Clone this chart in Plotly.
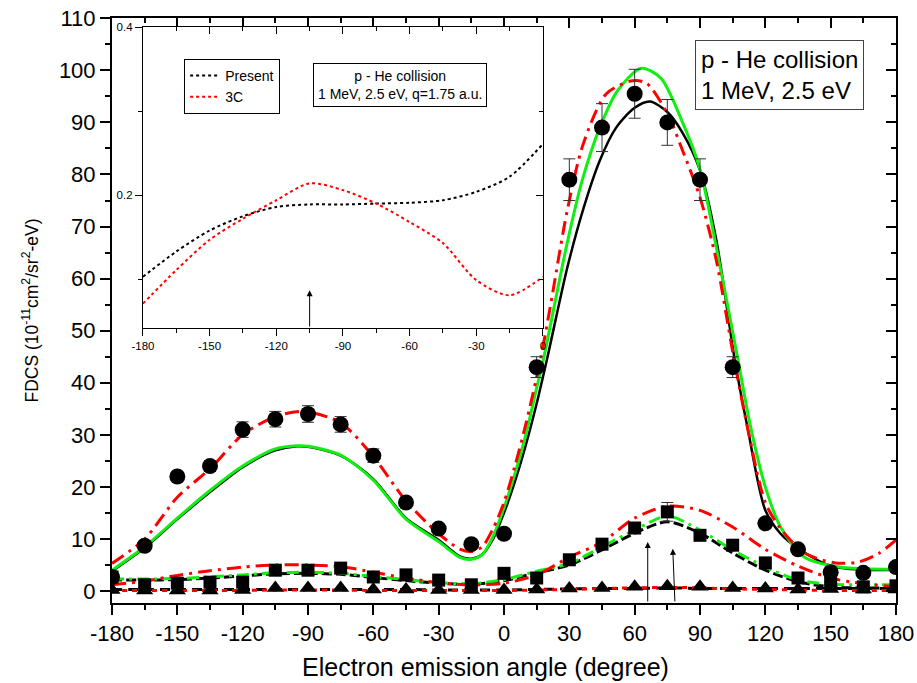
import plotly.graph_objects as go

# experimental points, every 15 degrees
angles = [-180, -165, -150, -135, -120, -105, -90, -75, -60, -45, -30, -15, 0,
          15, 30, 45, 60, 75, 90, 105, 120, 135, 150, 165, 180]
exp_high = [2.7, 8.7, 22, 24, 31, 33, 34, 32, 26, 17, 12, 9, 11,
            43, 79, 89, 95.5, 90, 79, 43, 13, 8, 3.6, 3.5, 4.6]
exp_high_err = [0.3, 0.5, 0.8, 1.0, 1.5, 1.5, 1.6, 1.5, 1.3, 0.8, 0.6, 0.5, 0.5,
                2.0, 4.0, 4.6, 4.7, 4.4, 4.0, 2.0, 0.7, 0.4, 0.3, 0.3, 0.3]
exp_mid = [2.7, 1.2, 1.5, 1.7, 1.7, 4.0, 4.0, 4.4, 2.7, 3.1, 2.1, 1.2, 3.4,
           2.5, 6.0, 9.0, 12.1, 15.2, 10.7, 8.8, 5.4, 2.5, 1.6, 0.8, 1.0]
exp_mid_err = [0.3, 0.5, 0.5, 0.5, 0.5, 0.6, 0.6, 0.6, 0.5, 0.5, 0.5, 0.4, 0.5,
               0.5, 0.6, 0.8, 1.0, 1.8, 0.9, 0.7, 0.5, 0.4, 0.3, 0.3, 0.3]
exp_low = [0.2, 0.1, 0.1, 0.1, 0.2, 0.6, 0.6, 0.6, 0.3, 0.3, 0.2, 0.2, 0.2,
           0.3, 0.5, 0.6, 0.8, 0.9, 0.8, 0.6, 0.5, 0.3, 0.4, 0.3, 0.3]

# theory, upper curves
present_x = [-180, -165, -150, -135, -120, -105, -95, -90, -75, -60, -45, -30, -20, -15,
             -10, -5, 0, 5, 10, 15, 20, 29, 36.5, 44, 51.5, 60, 67, 75, 82, 90, 97.5,
             106, 112, 120, 127, 135, 150, 165, 180]
present_y = [3.8, 8.3, 13.8, 19, 23.8, 27, 27.8, 27.7, 26, 21.5, 14, 9.8, 6.6, 6.2,
             7, 10, 15, 21, 28, 36, 45, 62, 73.5, 82.7, 89, 92.8, 94, 92, 88, 80.8, 67.4,
             44.3, 31, 15.5, 11, 8.2, 4.8, 4.1, 4.1]
green_x = [-180, -165, -150, -135, -120, -105, -95, -90, -75, -60, -45, -30, -20, -15,
           -10, -5, 0, 5, 10, 15, 18, 29, 36, 44, 52, 63, 72, 82, 90, 97.5, 107.5,
           113, 120, 127, 138, 154, 165, 180]
green_y = [4.0, 8.5, 14.0, 19.3, 24.0, 27.3, 27.9, 27.8, 26.1, 21.3, 13.8, 9.5, 6.4, 6.1,
           7.0, 10.5, 16, 22.5, 30, 39, 44.3, 66.8, 79, 89, 96, 100.4, 98.5, 90, 81, 66, 44.3,
           32, 20, 12.3, 6.5, 4.6, 4.3, 4.2]
red_x = [-180, -165, -150, -135, -120, -105, -92, -75, -60, -45, -30, -20, -15, -10, -5,
         0, 5, 10, 16.5, 21, 29, 36.5, 47, 59, 65.5, 75, 82, 90, 97.5, 105, 112, 120,
         127, 138, 152, 163, 172, 180]
red_y = [5.3, 10, 18, 23.5, 30, 33.5, 34.5, 32.3, 25.8, 17.3, 11, 8, 7.6, 8.5, 12,
         17, 24, 32, 44, 54, 73, 86, 95.5, 98, 97.5, 91.7, 84.6, 75.6, 63.5, 46, 31, 17,
         12, 7.3, 5.4, 5.6, 7.2, 9.8]

# middle curves
red_mid = [1.2, 1.9, 3.0, 3.9, 4.6, 5.0, 5.0, 4.7, 3.6, 2.5, 1.6, 1.2, 1.5,
           3.1, 6.5, 9.4, 14, 16.3, 15.5, 12.3, 8, 4.8, 2.5, 1.4, 0.8]
green_mid = [2.3, 2.3, 2.4, 2.7, 3.1, 3.5, 3.6, 3.4, 2.8, 2.2, 1.6, 1.4, 2.2,
             3.8, 5.3, 8.5, 11.7, 14.4, 11.7, 7.9, 4.6, 2.1, 1.3, 1.2, 1.2]
black_mid = [2.1, 2.1, 2.2, 2.5, 2.9, 3.3, 3.4, 3.2, 2.6, 2.0, 1.5, 1.3, 2.0,
             3.5, 5.0, 7.9, 11.1, 13.3, 11.1, 7.3, 4.0, 1.8, 0.8, 0.6, 0.6]

# lower curves
red_low = [0.1, 0.1, 0.1, 0.1, 0.1, 0.2, 0.2, 0.2, 0.1, 0.1, 0.1, 0.1, 0.1,
           0.2, 0.3, 0.5, 0.6, 0.7, 0.6, 0.4, 0.3, 0.2, 0.1, 0.1, 0.1]
black_low = [0.3, 0.3, 0.3, 0.3, 0.3, 0.3, 0.3, 0.3, 0.3, 0.3, 0.2, 0.2, 0.2,
             0.3, 0.4, 0.5, 0.5, 0.6, 0.5, 0.5, 0.5, 0.5, 0.5, 0.5, 0.5]

# inset
inset_x = [-180, -165, -150, -135, -120, -105, -90, -75, -60, -45, -30, -15, 0]
inset_present = [0.103, 0.133, 0.158, 0.175, 0.186, 0.189, 0.189, 0.190, 0.191,
                 0.194, 0.204, 0.222, 0.261]
inset_3c = [0.071, 0.111, 0.147, 0.172, 0.194, 0.214, 0.206, 0.190, 0.168,
            0.143, 0.099, 0.081, 0.103]

main_ticks = list(range(-180, 181, 30))
inset_ticks = list(range(-180, 1, 30))

font = "Liberation Sans, Arial, sans-serif"
RED = "#ff0000"
GREEN = "#11ee11"
fig = go.Figure()


def curve(x, y, color, dash, width=3, xa="x", ya="y", name=None, legend=False):
    fig.add_trace(go.Scatter(x=x, y=y, mode="lines", xaxis=xa, yaxis=ya, name=name,
                             showlegend=legend,
                             line=dict(color=color, dash=dash, width=width,
                                       shape="spline", smoothing=0.8)))


curve(present_x, present_y, "black", "solid", 2.5)
curve(green_x, green_y, GREEN, "solid", 3)
curve(red_x, red_y, RED, "14px,6px,3px,6px", 3)

curve(angles, black_mid, "black", "10px,4px", 3)
curve(angles, green_mid, GREEN, "12px,5px,3px,5px", 3)
curve(angles, red_mid, RED, "14px,6px,3px,6px", 3)

curve(angles, black_low, "black", "10px,6px", 3)
curve(angles, red_low, RED, "5px,5px", 3)

for vals, errs, sym, size in [(exp_high, exp_high_err, "circle", 16),
                              (exp_mid, exp_mid_err, "square", 13),
                              (exp_low, None, "triangle-up", 15)]:
    fig.add_trace(go.Scatter(
        x=angles, y=vals, mode="markers", showlegend=False,
        marker=dict(symbol=sym, size=size, color="black"),
        error_y=dict(type="data", array=errs, visible=errs is not None,
                     color="#333333", thickness=1, width=6)))

curve(inset_x, inset_present, "black", "dot", 2, "x2", "y2", "Present", True)
curve(inset_x, inset_3c, RED, "dot", 2, "x2", "y2", "3C", True)

# inward ticks on the top/right sides
fig.add_trace(go.Scatter(x=[None], y=[None], xaxis="x3", yaxis="y3", showlegend=False))
fig.add_trace(go.Scatter(x=[None], y=[None], xaxis="x4", yaxis="y4", showlegend=False))

arrow = dict(showarrow=True, arrowhead=2, arrowsize=1.2, arrowwidth=1,
             arrowcolor="black", axref="x", ayref="y", text="")
fig.add_annotation(x=66, y=9.4, ax=66, ay=-2.3, **arrow)
fig.add_annotation(x=77.5, y=8.1, ax=78.5, ay=-2.3, **arrow)
fig.add_annotation(x=-105, y=0.087, ax=-105, ay=0.042, xref="x2", yref="y2",
                   **{**arrow, "axref": "x2", "ayref": "y2"})

fig.add_annotation(x=0.852, y=0.902, xref="paper", yref="paper", showarrow=False,
                   xanchor="center", yanchor="middle",
                   text="p - He collision<br>1 MeV, 2.5 eV", align="left",
                   font=dict(family=font, size=24, color="black"),
                   bordercolor="#444", borderwidth=1, borderpad=5, bgcolor="white")
fig.add_annotation(x=0.367, y=0.885, xref="paper", yref="paper", showarrow=False,
                   xanchor="center", yanchor="middle",
                   text="p - He collision<br>1 MeV, 2.5 eV, q=1.75 a.u.",
                   font=dict(family=font, size=14, color="black"),
                   bordercolor="black", borderwidth=1, borderpad=4, bgcolor="white")
# x title sits a little left of the axis centre in the original
fig.add_annotation(x=0.476, y=-0.109, xref="paper", yref="paper", showarrow=False,
                   xanchor="center", yanchor="middle",
                   text="Electron emission angle (degree)",
                   font=dict(family=font, size=25, color="black"))

tick_font = dict(family=font, size=22, color="black")
small_font = dict(family=font, size=11.5, color="black")
main_ax = dict(showgrid=False, zeroline=False, showline=True, linecolor="black",
               linewidth=2, ticks="outside", ticklen=10, tickwidth=1.5,
               tickcolor="black", tickfont=tick_font, automargin=False)
inset_ax = dict(showgrid=False, zeroline=False, showline=True, linecolor="black",
                linewidth=1.2, ticks="outside", ticklen=7, tickwidth=1,
                tickcolor="black", tickfont=small_font, automargin=False)

fig.update_layout(
    width=917, height=683,
    margin=dict(l=112, r=21, t=18, b=80),
    plot_bgcolor="white", paper_bgcolor="white",
    font=dict(family=font, color="black"),
    xaxis=dict(main_ax, range=[-180, 180], tickvals=main_ticks,
               ticktext=[str(t) for t in main_ticks],
               minor=dict(dtick=15, ticks="outside", ticklen=5, tickcolor="black")),
    yaxis=dict(main_ax, range=[-2.3, 110.05], dtick=10, tick0=0,
               minor=dict(dtick=5, ticks="outside", ticklen=5, tickcolor="black"),
               title=dict(text="FDCS (10<sup>-11</sup>cm<sup>2</sup>/sr<sup>2</sup>-eV)",
                          font=dict(family=font, size=17.5), standoff=16)),
    xaxis3=dict(main_ax, overlaying="x", side="top", anchor="y3", range=[-180, 180],
                dtick=30, tick0=0, ticks="inside", showticklabels=False,
                minor=dict(dtick=15, ticks="inside", ticklen=5, tickcolor="black")),
    yaxis3=dict(main_ax, overlaying="y", side="right", anchor="x3", range=[-2.3, 110.05],
                dtick=10, tick0=0, ticks="inside", showticklabels=False,
                minor=dict(dtick=5, ticks="inside", ticklen=5, tickcolor="black")),
    xaxis2=dict(inset_ax, domain=[0.0395, 0.5497], anchor="y2", range=[-180, 0.01],
                tickvals=inset_ticks, ticktext=[str(t) for t in inset_ticks],
                minor=dict(dtick=15, ticks="outside", ticklen=4, tickcolor="black")),
    yaxis2=dict(inset_ax, domain=[0.470, 0.985], anchor="x2", range=[0.042, 0.4003],
                dtick=0.2, tick0=0, tickformat=".1f",
                minor=dict(dtick=0.1, ticks="outside", ticklen=4, tickcolor="black")),
    xaxis4=dict(inset_ax, overlaying="x2", side="top", anchor="y4", range=[-180, 0.01],
                dtick=30, tick0=0, ticks="inside", showticklabels=False,
                minor=dict(dtick=15, ticks="inside", ticklen=4, tickcolor="black")),
    yaxis4=dict(inset_ax, overlaying="y2", side="right", anchor="x4", range=[0.042, 0.4003],
                dtick=0.2, tick0=0, ticks="inside", showticklabels=False,
                minor=dict(dtick=0.1, ticks="inside", ticklen=4, tickcolor="black")),
    legend=dict(x=0.092, y=0.93, xanchor="left", yanchor="top",
                bordercolor="black", borderwidth=1, bgcolor="white",
                font=dict(family=font, size=14), tracegroupgap=0,
                itemwidth=30),
)

# the page's default body margin would push the figure 8px right and down
fig.write_html("out.html", config={"displayModeBar": False},
               post_script="document.body.style.margin='0';")
